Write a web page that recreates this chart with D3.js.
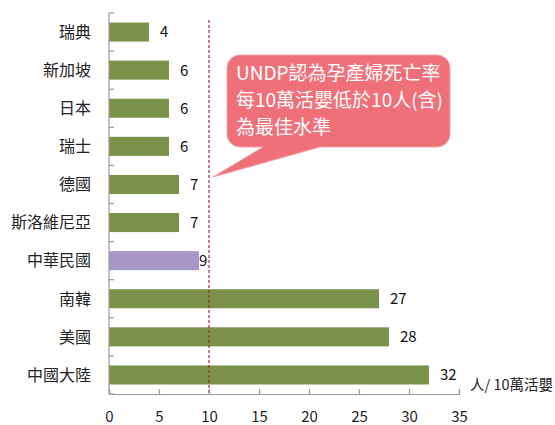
<!DOCTYPE html>
<html>
<head>
<meta charset="utf-8">
<script src="https://cdn.jsdelivr.net/npm/d3@7"></script>
<style>
  body { margin: 0; background: #fff; }
  text { font-family: "Noto Sans CJK TC", "Noto Sans", sans-serif; }
</style>
</head>
<body>
<div id="vis"></div>
<script>
// data
const countries = ["瑞典", "新加坡", "日本", "瑞士", "德國", "斯洛維尼亞", "中華民國", "南韓", "美國", "中國大陸"];
const rates = [4, 6, 6, 6, 7, 7, 9, 27, 28, 32];
const highlight = "中華民國";
const xTicks = [0, 5, 10, 15, 20, 25, 30, 35];
const threshold = 10;
const unitLabel = "人/ 10萬活嬰";
const noteLines = ["UNDP認為孕產婦死亡率", "每10萬活嬰低於10人(含)", "為最佳水準"];

const width = 555, height = 425;
const margin = { top: 13, right: 96, bottom: 31, left: 109 };

const svg = d3.select("#vis").append("svg")
  .attr("width", width)
  .attr("height", height);

const x = d3.scaleLinear()
  .domain([0, 35])
  .range([margin.left, width - margin.right]);

const y = d3.scaleBand()
  .domain(countries)
  .range([margin.top, height - margin.bottom])
  .paddingInner(0.5)
  .paddingOuter(0.25);

const data = countries.map((c, i) => ({ name: c, value: rates[i] }));

// bars
svg.selectAll("rect.bar")
  .data(data)
  .join("rect")
  .attr("class", "bar")
  .attr("x", x(0))
  .attr("y", d => y(d.name))
  .attr("width", d => x(d.value) - x(0))
  .attr("height", y.bandwidth())
  .attr("fill", d => d.name === highlight ? "#a996c8" : "#7a9249");

// value labels
svg.selectAll("text.val")
  .data(data)
  .join("text")
  .attr("class", "val")
  .attr("x", d => x(d.value) + (d.name === highlight ? 0 : 11))
  .attr("y", d => y(d.name) + y.bandwidth() / 2)
  .attr("dy", "0.36em")
  .attr("font-size", "15px")
  .attr("fill", "#111")
  .text(d => d.value);

// threshold line
svg.append("line")
  .attr("x1", x(threshold))
  .attr("x2", x(threshold))
  .attr("y1", 20)
  .attr("y2", height - margin.bottom)
  .attr("stroke", "#9e2b30")
  .attr("stroke-width", 1.2)
  .attr("stroke-dasharray", "3,2");

// y axis with boundary ticks
const yBottom = height - margin.bottom;
svg.append("line")
  .attr("x1", margin.left).attr("x2", margin.left)
  .attr("y1", margin.top).attr("y2", yBottom)
  .attr("stroke", "#9a9a9a").attr("stroke-width", 1.2);

const step = y.step();
const bounds = d3.range(countries.length + 1).map(i => margin.top + i * step);
svg.selectAll("line.ytick")
  .data(bounds)
  .join("line")
  .attr("class", "ytick")
  .attr("x1", margin.left).attr("x2", margin.left + 5)
  .attr("y1", d => d).attr("y2", d => d)
  .attr("stroke", "#9a9a9a").attr("stroke-width", 1.2);

svg.selectAll("text.cat")
  .data(countries)
  .join("text")
  .attr("class", "cat")
  .attr("x", margin.left - 18)
  .attr("y", d => y(d) + y.bandwidth() / 2)
  .attr("dy", "0.36em")
  .attr("text-anchor", "end")
  .attr("font-size", "16px")
  .attr("fill", "#222")
  .text(d => d);

// x axis
const xAxis = svg.append("g")
  .attr("transform", `translate(0,${yBottom})`)
  .call(d3.axisBottom(x).tickValues(xTicks).tickSize(-5).tickPadding(17));
xAxis.select(".domain").attr("stroke", "#9a9a9a").attr("stroke-width", 1.2);
xAxis.selectAll(".tick line").attr("stroke", "#9a9a9a").attr("stroke-width", 1.2);
xAxis.selectAll(".tick text")
  .attr("font-size", "15px")
  .attr("fill", "#222")
  .style("font-family", "'Noto Sans CJK TC', sans-serif");

svg.append("text")
  .attr("x", 470)
  .attr("y", yBottom - 4)
  .attr("font-size", "14.5px")
  .attr("fill", "#222")
  .text(unitLabel);

// callout bubble
const bx = 227, by = 55, bw = 223, bh = 92, r = 13;
const tip = [x(threshold) + 4, 177];
const t1 = bx + 36, t2 = bx + 93;
const p = d3.path();
p.moveTo(bx + r, by);
p.lineTo(bx + bw - r, by);
p.arcTo(bx + bw, by, bx + bw, by + r, r);
p.lineTo(bx + bw, by + bh - r);
p.arcTo(bx + bw, by + bh, bx + bw - r, by + bh, r);
p.lineTo(t2, by + bh);
p.lineTo(tip[0], tip[1]);
p.lineTo(t1, by + bh);
p.lineTo(bx + r, by + bh);
p.arcTo(bx, by + bh, bx, by + bh - r, r);
p.lineTo(bx, by + r);
p.arcTo(bx, by, bx + r, by, r);
p.closePath();

svg.append("path")
  .attr("d", p.toString())
  .attr("fill", "#f07079")
  .attr("stroke", "#f5a2a7")
  .attr("stroke-width", 1);

svg.selectAll("text.note")
  .data(noteLines)
  .join("text")
  .attr("class", "note")
  .attr("x", bx + 9)
  .attr("y", (d, i) => by + 18 + i * 27)
  .attr("dy", "0.36em")
  .attr("font-size", "19px")
  .attr("fill", "#fff")
  .text(d => d);
</script>
</body>
</html>
